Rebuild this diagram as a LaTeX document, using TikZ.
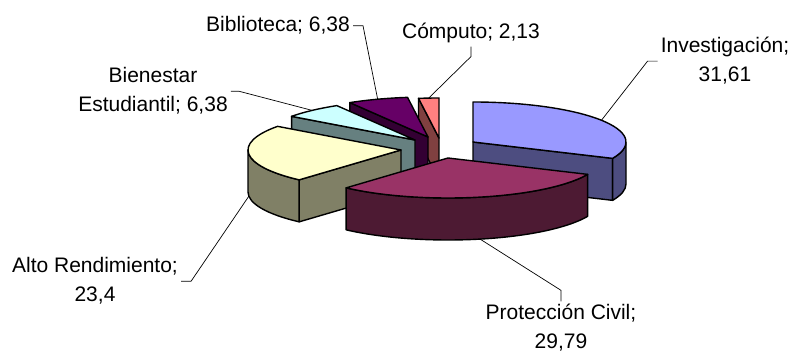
\documentclass[tikz,border=0pt]{standalone}
\usepackage{fontspec}
\setmainfont{Liberation Sans}
\usetikzlibrary{calc}

\definecolor{invtop}{HTML}{9999FF}
\definecolor{invside}{HTML}{4D4D80}
\definecolor{protop}{HTML}{993366}
\definecolor{proside}{HTML}{4D1A33}
\definecolor{alttop}{HTML}{FFFFCC}
\definecolor{altside}{HTML}{808066}
\definecolor{bietop}{HTML}{CCFFFF}
\definecolor{bieside}{HTML}{668080}
\definecolor{bibtop}{HTML}{660066}
\definecolor{bibside}{HTML}{330033}
\definecolor{comtop}{HTML}{FF8080}
\definecolor{comside}{HTML}{804040}

\tikzset{
  pieline/.style={draw=black, line width=1.4pt, line join=round},
  leader/.style={draw=black, line width=0.7pt},
  etiqueta/.style={font=\fontsize{21}{29}\selectfont, align=center, inner sep=3pt, anchor=base},
}

\begin{document}
\begin{tikzpicture}[x=1pt,y=1pt]
		\useasboundingbox (0,0) rectangle (791,352);

		% centros de los sectores
		\coordinate (inv) at (473,210);
		\coordinate (pro) at (448,194);
		\coordinate (alt) at (401,202);
		\coordinate (bie) at (415,212);
		\coordinate (bib) at (428,215);
		\coordinate (com) at (439,214);

		% sector Computo
		\draw [pieline, fill=comside] (com) -- ++(97.69:153pt and 40pt) -- ++(0,-42) -- ($(com)+(0,-42)$) -- cycle;
		\draw [pieline, fill=comtop] (com) -- ++(97.69:153pt and 40pt) arc [start angle=97.69, end angle=90, x radius=153, y radius=40] -- cycle;

		% sector Biblioteca
		\draw [pieline, fill=bibside] (bib) -- ++(120.73:153pt and 40pt) -- ++(0,-42) -- ($(bib)+(0,-42)$) -- cycle;
		\draw [pieline, fill=bibtop] (bib) -- ++(120.73:153pt and 40pt) arc [start angle=120.73, end angle=97.69, x radius=153, y radius=40] -- cycle;

		% sector Bienestar Estudiantil
		\draw [pieline, fill=bieside] (bie) -- ++(143.77:153pt and 40pt) -- ++(0,-42) -- ($(bie)+(0,-42)$) -- cycle;
		\draw [pieline, fill=bietop] (bie) -- ++(143.77:153pt and 40pt) arc [start angle=143.77, end angle=120.73, x radius=153, y radius=40] -- cycle;

		% sector Investigacion
		\draw [pieline, fill=invside] (inv) -- ++(-24.15:153pt and 40pt) -- ++(0,-42) -- ($(inv)+(0,-42)$) -- cycle;
		\draw [pieline, fill=invside] (inv) ++(0:153pt and 40pt) arc [start angle=0, end angle=-24.15, x radius=153, y radius=40] -- ++(0,-42) arc [start angle=-24.15, end angle=0, x radius=153, y radius=40] -- cycle;
		\draw [pieline, fill=invtop] (inv) -- ++(90:153pt and 40pt) arc [start angle=90, end angle=-24.15, x radius=153, y radius=40] -- cycle;

		% sector Alto Rendimiento
		\draw [pieline, fill=altside] (alt) -- ++(-131.73:153pt and 40pt) -- ++(0,-42) -- ($(alt)+(0,-42)$) -- cycle;
		\draw [pieline, fill=altside] (alt) ++(-180:153pt and 40pt) arc [start angle=-180, end angle=-131.73, x radius=153, y radius=40] -- ++(0,-42) arc [start angle=-131.73, end angle=-180, x radius=153, y radius=40] -- cycle;
		\draw [pieline, fill=alttop] (alt) -- ++(-131.73:153pt and 40pt) arc [start angle=-131.73, end angle=-216.23, x radius=153, y radius=40] -- cycle;

		% sector Proteccion Civil
		\draw [pieline, fill=proside] (pro) ++(-24.15:153pt and 40pt) arc [start angle=-24.15, end angle=-131.73, x radius=153, y radius=40] -- ++(0,-42) arc [start angle=-131.73, end angle=-24.15, x radius=153, y radius=40] -- cycle;
		\draw [pieline, fill=protop] (pro) -- ++(-24.15:153pt and 40pt) arc [start angle=-24.15, end angle=-131.73, x radius=153, y radius=40] -- cycle;

		% puntos de las lineas guia
		\coordinate (invmid) at ($(inv)+(32.9:153pt and 40pt)$);
		\coordinate (promid) at ($(pro)+(-77.9:153pt and 40pt)+(0,-42)$);
		\coordinate (altmid) at ($(alt)+(186.02:153pt and 40pt)+(0,-42)$);
		\coordinate (biemid) at ($(bie)+(132.25:153pt and 40pt)$);
		\coordinate (bibmid) at ($(bib)+(109.21:153pt and 40pt)$);
		\coordinate (commid) at ($(com)+(93.85:153pt and 40pt)$);

		% etiquetas
		\node [etiqueta] (labinv) at (725,270) {Investigación;\\31,61};
		\node [etiqueta] (labpro) at (561,3) {Protección Civil;\\29,79};
		\node [etiqueta] (labalt) at (95,50) {Alto Rendimiento;\\23,4};
		\node [etiqueta] (labbie) at (153,240) {Bienestar\\Estudiantil; 6,38};
		\node [etiqueta] (labbib) at (278,320) {Biblioteca; 6,38};
		\node [etiqueta] (labcom) at (471,313) {Cómputo; 2,13};

		% lineas guia
		\draw [leader] (labinv.west) -- ++(-10,0) -- (invmid);
		\draw [leader] (labpro.north) -- ++(0,11) -- (promid);
		\draw [leader] (labalt.east) -- ++(10,0) -- (altmid);
		\draw [leader] (labbie.east) -- ++(8,0) -- (biemid);
		\draw [leader] (labbib.east) -- ++(10,0) -- (bibmid);
		\draw [leader] (labcom.south) -- ++(0,-10) -- (commid);
	\end{tikzpicture}
\end{document}
